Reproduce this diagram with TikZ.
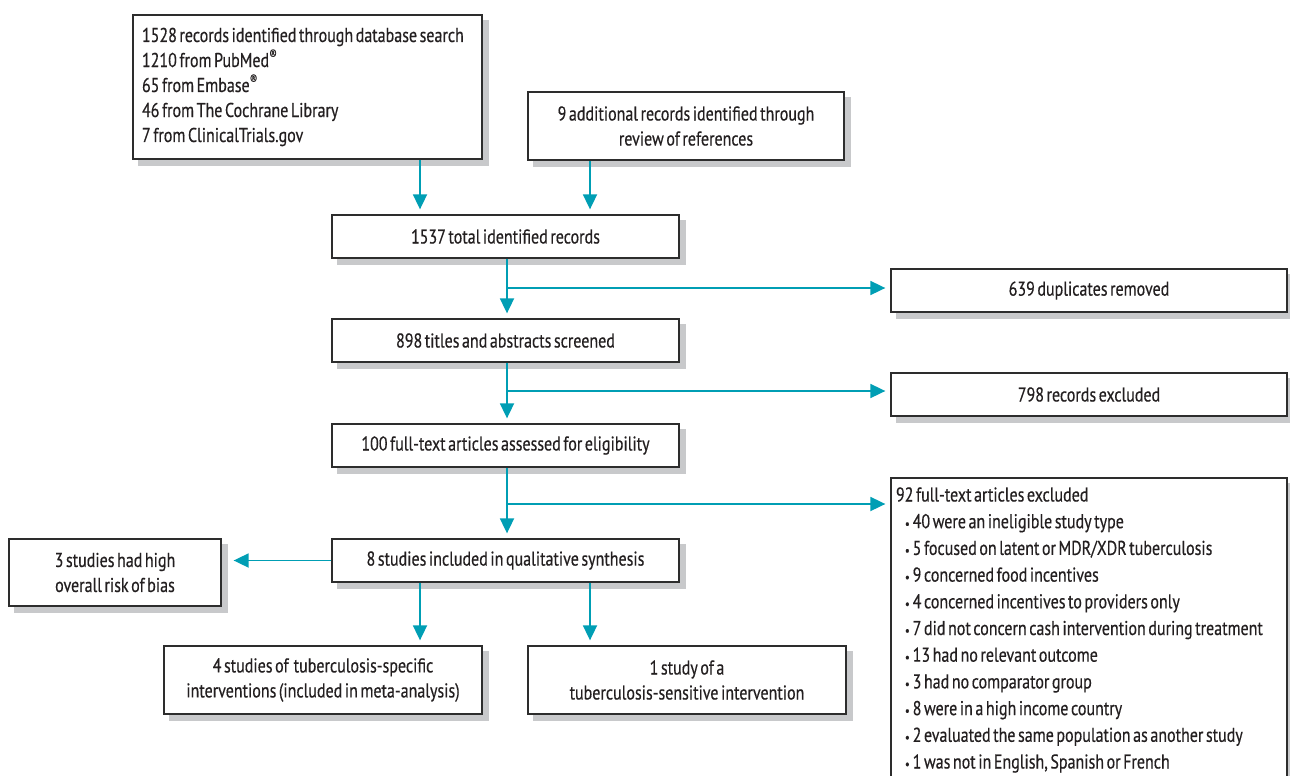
\documentclass[tikz,border=0pt]{standalone}
\usepackage{fontspec}
\setmainfont{PT Sans}[FakeStretch=0.8, FakeBold=0.4, WordSpace=0.6]
\usetikzlibrary{arrows.meta,backgrounds}
\definecolor{teal}{RGB}{0,158,180}
\definecolor{boxline}{RGB}{45,45,45}
\definecolor{shadowgray}{RGB}{200,201,203}
\definecolor{txt}{RGB}{35,31,32}
\newcommand{\bul}{\hspace*{9pt}{\fontsize{13}{13}\selectfont •}\hspace{3pt}}
\begin{document}
\begin{tikzpicture}[x=1pt,y=-1pt,
  box/.style={draw=boxline, line width=1.3pt, fill=white, text=txt,
    inner sep=0pt, align=center, font=\fontsize{20}{25}\selectfont},
  shade box/.style={fill=shadowgray},
  arr/.style={draw=teal, line width=1.8pt, -{Triangle[length=15pt,width=14pt]}, shorten >=5pt}]
\useasboundingbox (0,0) rectangle (1290,776);
% x positions
\coordinate (xL) at (420,0);
\coordinate (xR) at (590,0);
\coordinate (xM) at (507,0);
\coordinate (br1) at (0,288);
\coordinate (br2) at (0,391);
\coordinate (br3) at (0,504);
% boxes
\node[box, minimum width=349pt, minimum height=144pt, text width=331pt, align=flush left] (b1) at (307.5,87)
 {1528 records identified through database search\\
  1210 from PubMed\textsuperscript{®}\\
  65 from Embase\textsuperscript{®}\\
  46 from The Cochrane Library\\
  7 from ClinicalTrials.gov};
\node[box, minimum width=316pt, minimum height=68pt] (b2) at (686,126)
 {9 additional records identified through\\ review of references};
\node[box, minimum width=347pt, minimum height=43pt] (b3) at (505.5,236.5) {1537 total identified records};
\node[box, minimum width=347pt, minimum height=43pt] (b4) at (505.5,340.5) {898 titles and abstracts screened};
\node[box, minimum width=347pt, minimum height=43pt] (b5) at (505.5,445.5) {100 full-text articles assessed for eligibility};
\node[box, minimum width=347pt, minimum height=43pt] (b6) at (505.5,560.5) {8 studies included in qualitative synthesis};
\node[box, minimum width=396pt, minimum height=43pt] (dup) at (1089,290.5) {639 duplicates removed};
\node[box, minimum width=396pt, minimum height=43pt] (rex) at (1089,394.5) {798 records excluded};
\node[box, minimum width=396pt, minimum height=304pt, text width=386pt, align=flush left,
      font=\fontsize{20}{26.7}\selectfont] (exc) at (1089,630)
 {92 full-text articles excluded\\
  \bul 40 were an ineligible study type\\
  \bul 5 focused on latent or MDR/XDR tuberculosis\\
  \bul 9 concerned food incentives\\
  \bul 4 concerned incentives to providers only\\
  \bul 7 did not concern cash intervention during treatment\\
  \bul 13 had no relevant outcome\\
  \bul 3 had no comparator group\\
  \bul 8 were in a high income country\\
  \bul 2 evaluated the same population as another study\\
  \bul 1 was not in English, Spanish or French};
\node[box, minimum width=212pt, minimum height=67pt] (bias) at (115,572.5)
 {3 studies had high\\ overall risk of bias};
\node[box, minimum width=318pt, minimum height=68pt] (b7) at (323,680)
 {4 studies of\ \ tuberculosis-specific\\ interventions (included in meta-analysis)};
\node[box, minimum width=318pt, minimum height=68pt] (b8) at (687,680)
 {1 study of a\\ tuberculosis-sensitive intervention};
% shadows
\begin{scope}[on background layer]
\foreach \n in {b1,b2,b3,b4,b5,b6,dup,rex,exc,bias,b7,b8}
  \fill[shade box] ([shift={(6,6)}]\n.south west) rectangle ([shift={(6,6)}]\n.north east);
\end{scope}
% connectors
\draw[arr] (b1.south -| xL) -- (b3.north -| xL);
\draw[arr] (b2.south -| xR) -- (b3.north -| xR);
\draw[arr] (b3.south -| xM) -- (b4.north -| xM);
\draw[arr] (xM |- br1) -- (dup.west |- br1);
\draw[arr] (b4.south -| xM) -- (b5.north -| xM);
\draw[arr] (xM |- br2) -- (rex.west |- br2);
\draw[arr] (b5.south -| xM) -- (b6.north -| xM);
\draw[arr] (xM |- br3) -- (exc.west |- br3);
\draw[arr, shorten >=12pt] (b6.west) -- (bias.east |- b6.west);
\draw[arr] (b6.south -| xL) -- (b7.north -| xL);
\draw[arr] (b6.south -| xR) -- (b8.north -| xR);
\end{tikzpicture}
\end{document}
